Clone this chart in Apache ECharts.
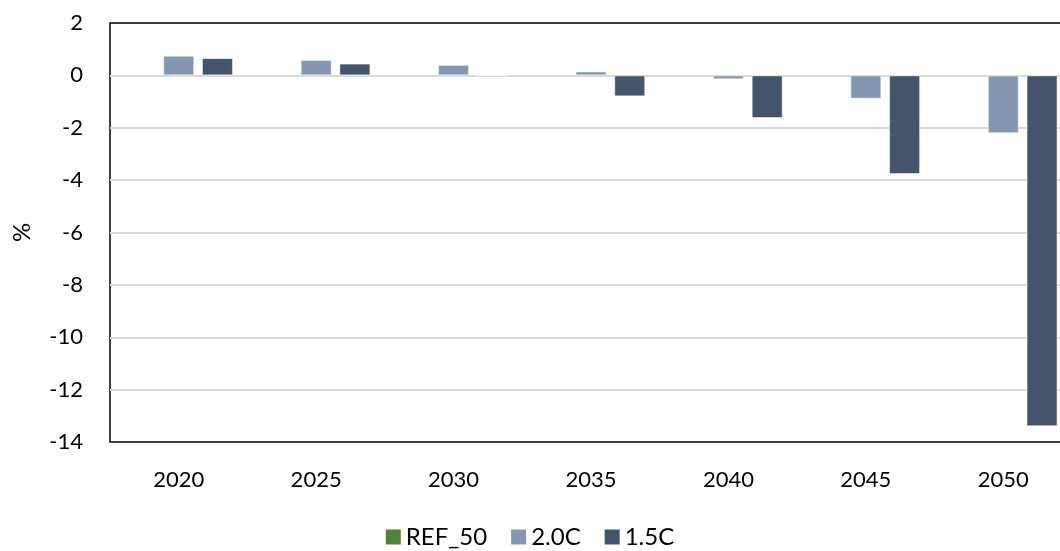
<!DOCTYPE html>
<html>
<head>
<meta charset="utf-8">
<script src="https://cdn.jsdelivr.net/npm/echarts@6/dist/echarts.min.js"></script>
<style>
    html, body { margin: 0; padding: 0; background: #fff; }
    #chart { width: 1060px; height: 551px; }
</style>
</head>
<body>
<div id="chart"></div>
<script>
var years = ['2020', '2025', '2030', '2035', '2040', '2045', '2050'];
var ref50 = [0, 0, 0, 0, 0, 0, 0];
var c20 = [0.75, 0.59, 0.40, 0.15, -0.15, -0.89, -2.21];
var c15 = [0.66, 0.45, 0, -0.80, -1.63, -3.77, -13.4];
var yTicks = [2, 0, -2, -4, -6, -8, -10, -12, -14];

var font = 'Lato, "Open Sans", sans-serif';

var barStyle = function (color) {
    return {
        color: color,
        borderColor: 'rgba(255,255,255,0.5)',
        borderWidth: 1
    };
};

var option = {
    animation: false,
    textStyle: { fontFamily: font },
    grid: {
        left: 110,
        right: -12,
        top: 23,
        bottom: 109,
        containLabel: false,
        outerBoundsMode: 'none',
        show: true,
        borderColor: '#000',
        borderWidth: 1.5
    },
    legend: {
        top: 520,
        left: 'center',
        icon: 'rect',
        itemWidth: 15,
        itemHeight: 15,
        itemGap: 24,
        itemStyle: { borderWidth: 0 },
        textStyle: { fontSize: 24, color: '#000', fontFamily: font },
        data: ['REF_50', '2.0C', '1.5C']
    },
    xAxis: {
        type: 'category',
        data: years,
        axisLine: { show: false },
        axisTick: { show: false },
        axisLabel: { fontSize: 22, color: '#000', margin: 27, fontFamily: font }
    },
    yAxis: {
        type: 'value',
        min: yTicks[yTicks.length - 1],
        max: yTicks[0],
        interval: 2,
        name: '%',
        nameLocation: 'middle',
        nameRotate: 90,
        nameGap: 76,
        nameTextStyle: { fontSize: 24, color: '#000', fontFamily: font },
        axisLine: { show: false },
        axisTick: { show: false },
        axisLabel: { fontSize: 22, color: '#000', margin: 27, fontFamily: font },
        splitLine: {
            showMinLine: false,
            showMaxLine: false,
            lineStyle: { color: '#d9d9d9', width: 2 }
        }
    },
    series: [
        {
            name: 'REF_50',
            type: 'bar',
            data: ref50,
            barWidth: 31,
            barGap: '25%',
            itemStyle: { color: '#548235' }
        },
        {
            name: '2.0C',
            type: 'bar',
            data: c20,
            barWidth: 31,
            barGap: '25%',
            itemStyle: barStyle('#8497B0')
        },
        {
            name: '1.5C',
            type: 'bar',
            data: c15,
            barWidth: 31,
            barGap: '25%',
            itemStyle: barStyle('#44546A')
        }
    ]
};

var myChart = echarts.init(document.getElementById('chart'));
myChart.setOption(option);
</script>
</body>
</html>
